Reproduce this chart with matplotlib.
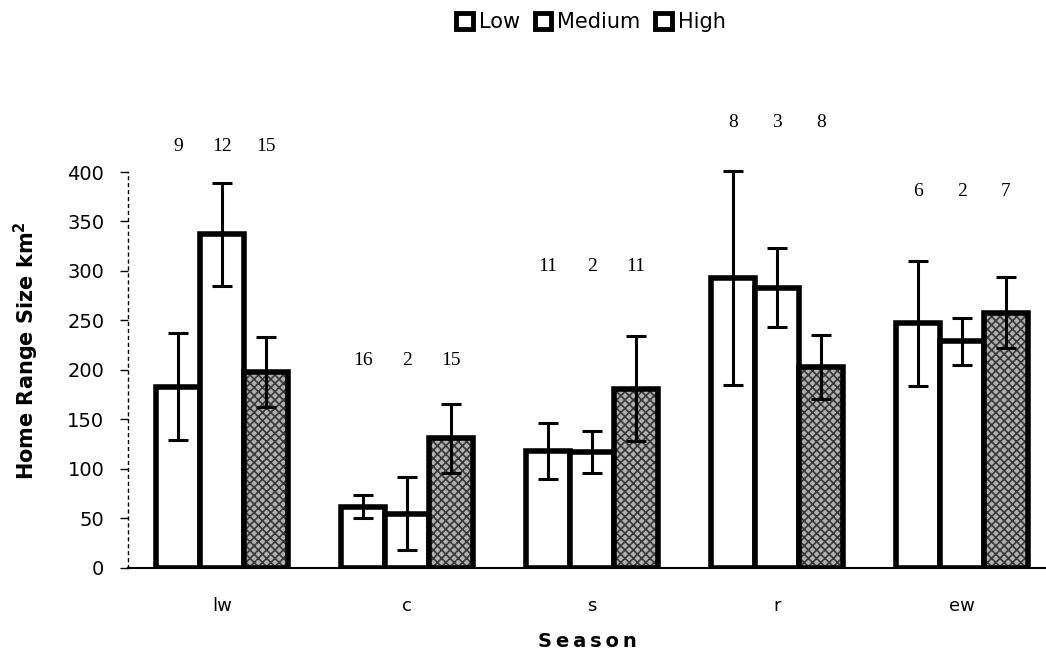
import matplotlib
matplotlib.use("Agg")
import matplotlib.pyplot as plt
import numpy as np

# Donnees
saisons = ["lw", "c", "s", "r", "ew"]
niveaux = ["Low", "Medium", "High"]
low = [183, 62, 118, 293, 247]
medium = [337, 55, 117, 283, 229]
high = [198, 131, 181, 203, 258]
err_low = [54, 12, 28, 108, 63]
err_medium = [52, 37, 21, 40, 24]
err_high = [35, 35, 53, 32, 36]
n_low = ["9", "16", "11", "8", "6"]
n_medium = ["12", "2", "2", "3", "2"]
n_high = ["15", "15", "11", "8", "7"]
y_n = [426, 210, 305, 450, 380]  # hauteur des effectifs

plt.rcParams["font.family"] = ["DejaVu Sans"]
plt.rcParams["hatch.linewidth"] = 1.2

fig = plt.figure(figsize=(10.46, 6.57), dpi=100)
ax = fig.add_axes([0.1224, 0.1355, 0.8776, 0.6027])

x = np.arange(len(saisons))
w = 0.238
series = [low, medium, high]
erreurs = [err_low, err_medium, err_high]
effectifs = [n_low, n_medium, n_high]
handles = []
for i, (vals, errs, nn) in enumerate(zip(series, erreurs, effectifs)):
    xs = x + (i - 1) * w
    if i == 2:
        b = ax.bar(xs, vals, w, facecolor="#b0b0b0", edgecolor="black",
                   linewidth=4, hatch="xxxx", zorder=2)
        for p in b:
            p._hatch_color = (0.22, 0.22, 0.22, 1.0)
    else:
        b = ax.bar(xs, vals, w, facecolor="white", edgecolor="black",
                   linewidth=4, zorder=2)
    eb = ax.errorbar(xs, vals, yerr=errs, fmt="none", ecolor="black",
                     elinewidth=2.2, capsize=7, capthick=2.2, zorder=3)
    for art in eb.lines[1] + eb.lines[2]:
        art.set_clip_on(False)
    for xi, lab, yy in zip(xs, nn, y_n):
        ax.text(xi, yy, lab, ha="center", va="center", fontsize=14,
                family="Liberation Serif", clip_on=False)
    h = plt.Rectangle((0, 0), 1, 1, facecolor="white", edgecolor="black",
                      linewidth=3.5)
    handles.append(h)

ax.set_xlim(-0.508, 4.454)
ax.set_ylim(0, 400)
ax.set_yticks(range(0, 401, 50))
ax.tick_params(axis="y", labelsize=14, length=6, width=1, direction="out", pad=11)
ax.tick_params(axis="x", labelsize=13, length=0, pad=21)
ax.set_xticks(x)
ax.set_xticklabels(saisons)

for s in ["top", "right"]:
    ax.spines[s].set_visible(False)
ax.spines["left"].set_linestyle((0, (2, 3)))
ax.spines["left"].set_linewidth(1)
ax.spines["bottom"].set_linewidth(1.5)

ax.set_ylabel("Home Range Size km$^\\mathbf{2}$", fontsize=15, fontweight="bold",
              labelpad=9)
ax.yaxis.set_label_coords(-0.095, 0.55)
ax.set_xlabel("S\u2009e\u2009a\u2009s\u2009o\u2009n", fontsize=14, fontweight="bold",
              labelpad=12)

fig.legend(handles, niveaux, loc="upper center", bbox_to_anchor=(0.565, 1.01),
           ncol=3, frameon=False, fontsize=15, handlelength=0.8, handleheight=0.8,
           handletextpad=0.3, columnspacing=0.7)

fig.savefig("out.png", dpi=100)
